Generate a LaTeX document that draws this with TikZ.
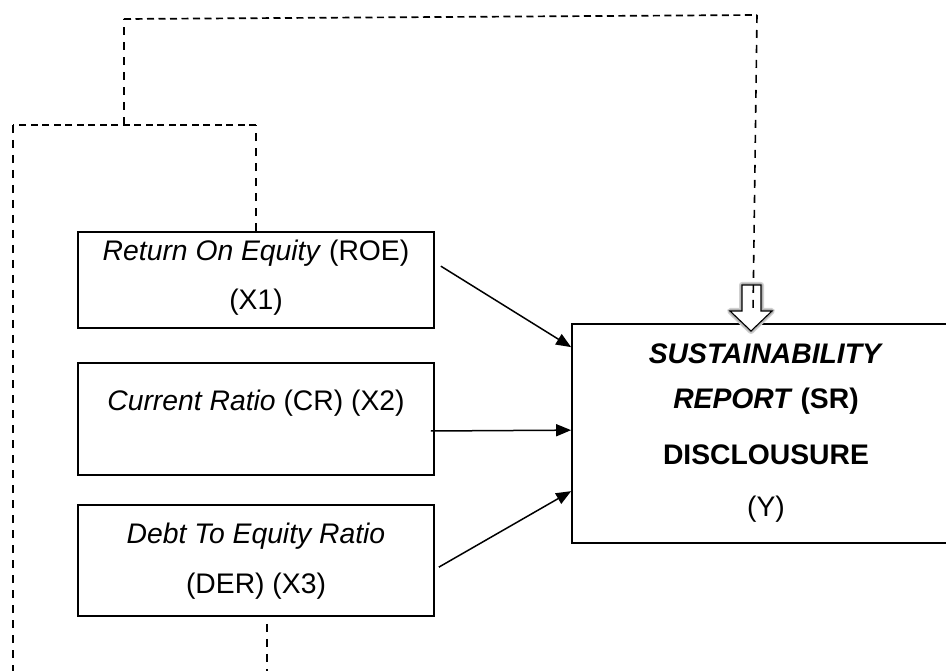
\documentclass[tikz,border=0pt]{standalone}
\usepackage{fontspec}
\setmainfont{Liberation Sans}
\usetikzlibrary{arrows.meta,calc}
\begin{document}
\begin{tikzpicture}[x=1pt,y=-1pt,
  box/.style={draw, line width=1.7pt, rectangle, inner sep=0pt},
  lbl/.style={font=\fontsize{28.3}{34}\selectfont, inner sep=0pt, anchor=base},
  link/.style={line width=1.5pt, -{Triangle[length=15pt,width=12pt]}},
  hdash/.style={line width=1.7pt, dash pattern=on 7pt off 4.5pt},
  vdash/.style={line width=1.6pt, dash pattern=on 8pt off 7pt}]
\useasboundingbox (0,0) rectangle (946,671);
\clip (0,0) rectangle (946,671);

% variable boxes
\node[box, minimum width=356pt, minimum height=96pt] (roe) at (256,280) {};
\node[box, minimum width=356pt, minimum height=112pt] (cr)  at (256,419) {};
\node[box, minimum width=356pt, minimum height=111pt] (der) at (256,560.5) {};
\node[box, minimum width=390pt, minimum height=219pt] (sr)  at (767,433.5) {};

% box texts
\node[lbl] (roe1) at (256,261) {\textit{Return On Equity} (ROE)};
\node[lbl] (roe2) at (256,309) {(X1)};
\node[lbl] (cr1)  at (256,410) {\textit{Current Ratio} (CR) (X2)};
\node[lbl] (der1) at (256,543) {\textit{Debt To Equity Ratio}};
\node[lbl] (der2) at (256,593) {(DER) (X3)};
\node[lbl] (sr1) at (766,363) {\textbf{\textit{SUSTAINABILITY}}};
\node[lbl] (sr2) at (766,408) {\textbf{\textit{REPORT} (SR)}};
\node[lbl] (sr3) at (766,464) {\textbf{DISCLOUSURE}};
\node[lbl] (sr4) at (766,516) {(Y)};

% direct effects
\draw[link] ($(roe.north east)+(6,35)$) -- ($(sr.north west)+(0,24)$);
\draw[link] ($(cr.east)+(-4,12)$) -- ($(sr.north west)+(0,107)$);
\draw[link] ($(der.north east)+(4,63)$) -- ($(sr.north west)+(0,168)$);

% hollow block arrow onto the dependent variable
\coordinate (hat) at (751,331);
\path[draw=black!18, line width=6pt, line join=round]
  (742,285) -- (761,285) -- (761,311) -- (772,311) -- (hat) -- (730,311) -- (742,311) -- cycle;
\path[draw=black!30, line width=3.5pt, line join=round]
  (742,285) -- (761,285) -- (761,311) -- (772,311) -- (hat) -- (730,311) -- (742,311) -- cycle;
\path[draw=black, fill=white, line width=1.1pt]
  (742,285) -- (761,285) -- (761,311) -- (772,311) -- (hat) -- (730,311) -- (742,311) -- cycle;

% dashed simultaneous-effect bracket
\coordinate (j1) at (256,125);
\coordinate (j2) at (124,125);
\coordinate (j3) at (13,125);
\coordinate (j4) at (124,19);
\coordinate (j5) at (757,15);
\coordinate (j6) at (753,312);
\coordinate (lb) at (13,671);
\draw[vdash] (roe.north) -- (j1);
\draw[hdash] (j1) -- (j3);
\draw[vdash] (j3) -- (lb);
\draw[vdash] (j2) -- (j4);
\draw[hdash] (j4) -- (j5);
\draw[vdash] (j5) -- (j6);
\coordinate (db) at ($(der.south)+(11,67)$);
\draw[vdash] ($(der.south)+(11,7)$) -- (db);
\end{tikzpicture}
\end{document}
